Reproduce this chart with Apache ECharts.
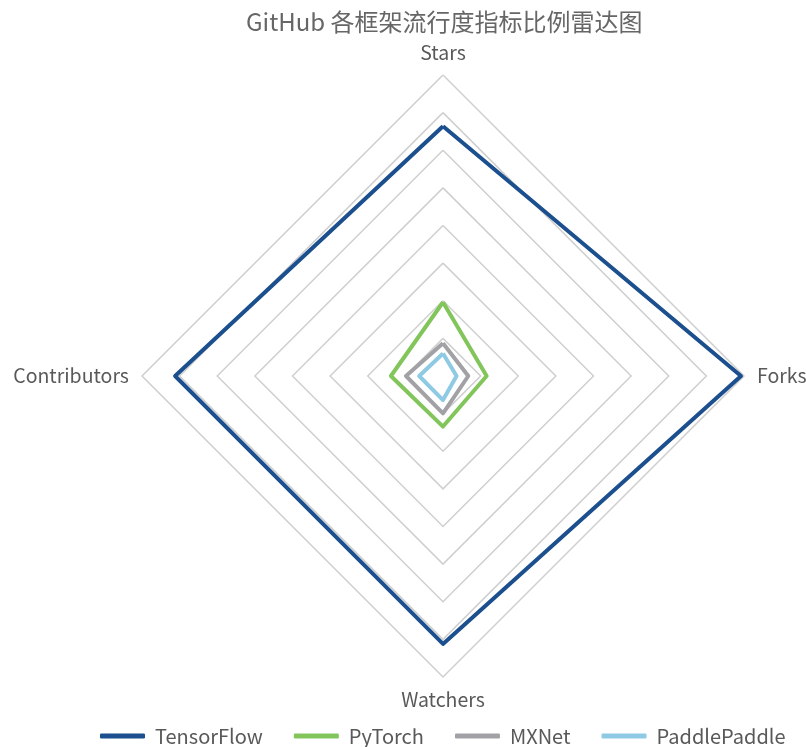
<!DOCTYPE html>
<html>
<head>
<meta charset="utf-8">
<script src="https://cdn.jsdelivr.net/npm/echarts@6/dist/echarts.min.js"></script>
<style>
  html, body { margin: 0; padding: 0; background: #fff; }
  #radar { width: 806px; height: 747px; }
</style>
</head>
<body>
<div id="radar"></div>
<script>
// 雷达图数据（比例值，最大为 1），指标按逆时针顺序：上、左、下、右
const indicators = ["Stars", "Contributors", "Watchers", "Forks"];
const frameworks = ["TensorFlow", "PyTorch", "MXNet", "PaddlePaddle"];
const tensorflow = [0.83, 0.89, 0.89, 0.99];
const pytorch = [0.245, 0.173, 0.168, 0.145];
const mxnet = [0.109, 0.123, 0.124, 0.084];
const paddle = [0.075, 0.079, 0.08, 0.045];
const colors = ["#1b4f8e", "#82c55b", "#a2a2a6", "#8ecae4"];

const values = [tensorflow, pytorch, mxnet, paddle];
const font = '"Noto Sans CJK SC", "Noto Sans", sans-serif';

let chart = echarts.init(document.getElementById("radar"));
chart.setOption({
  color: colors,
  title: {
    text: "GitHub 各框架流行度指标比例雷达图",
    left: 241,
    top: 5,
    textStyle: {
      color: "#666666",
      fontSize: 24,
      fontWeight: "normal",
      fontFamily: font
    }
  },
  legend: {
    data: frameworks,
    bottom: -4,
    left: 95,
    icon: "roundRect",
    itemWidth: 45,
    itemHeight: 5,
    itemGap: 31,
    textStyle: {
      color: "#595959",
      fontSize: 20,
      fontFamily: font,
      padding: [0, 0, 0, 5]
    }
  },
  radar: {
    center: [443, 376],
    radius: 301,
    shape: "polygon",
    splitNumber: 8,
    indicator: indicators.map(n => ({ name: n, max: 1 })),
    nameGap: 13,
    axisName: {
      color: "#595959",
      fontSize: 19.5,
      fontFamily: font
    },
    axisLine: { show: false },
    splitArea: { show: false },
    splitLine: {
      lineStyle: { color: "#cfcfcf", width: 1.5 }
    }
  },
  series: [
    {
      type: "radar",
      symbol: "none",
      lineStyle: { width: 4 },
      data: frameworks.map((name, i) => ({
        name: name,
        value: values[i],
        lineStyle: { color: colors[i], width: 4 },
        itemStyle: { color: colors[i] }
      }))
    }
  ]
});
</script>
</body>
</html>
